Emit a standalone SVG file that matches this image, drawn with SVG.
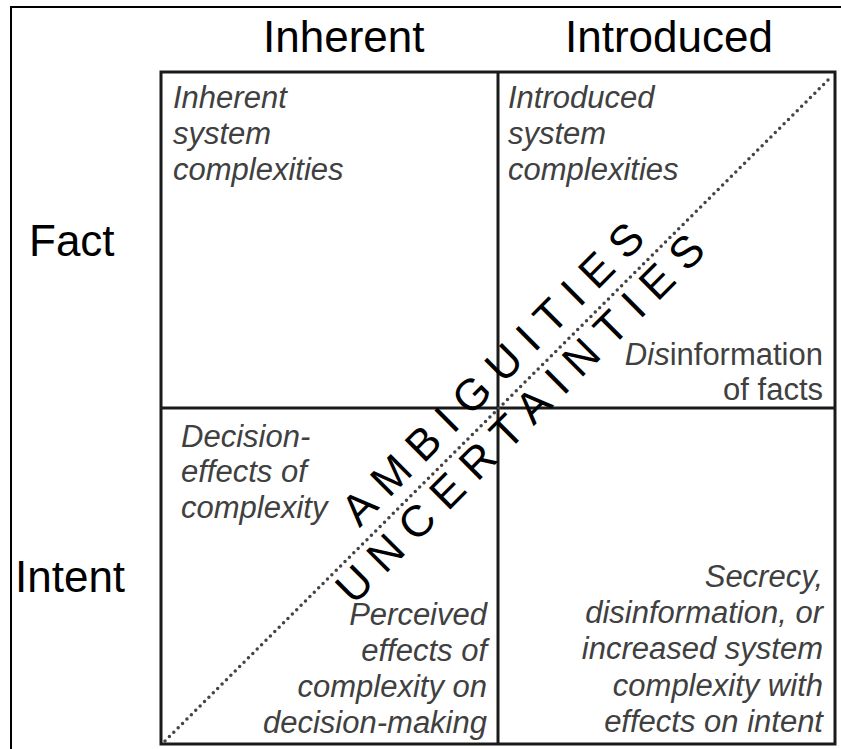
<svg xmlns="http://www.w3.org/2000/svg" width="841" height="749" viewBox="0 0 841 749">
<style>
.hdr{font-family:"Liberation Sans",Arial,sans-serif;font-size:44px;fill:#000}
.lab{font-family:"Liberation Sans",Arial,sans-serif;font-size:31px;font-style:italic;fill:#404040}
.up{font-style:normal}
.r{text-anchor:end}
.big{font-family:"Liberation Sans",Arial,sans-serif;font-size:44px;fill:#000}
.grid{fill:none;stroke:#1a1a1a;stroke-width:3}
</style>
<rect width="841" height="749" fill="#fff"/>
<rect x="11" y="7" width="840" height="760" fill="none" stroke="#000" stroke-width="2"/>
<g id="headers">
<text class="hdr" x="263" y="52">Inherent</text>
<text class="hdr" x="565" y="52">Introduced</text>
<text class="hdr" x="29" y="256">Fact</text>
<text class="hdr" x="15" y="592">Intent</text>
</g>
<g id="grid">
<rect class="grid" x="161" y="72" width="674" height="672"/>
<line class="grid" x1="498" y1="72" x2="498" y2="744"/>
<line class="grid" x1="161" y1="408" x2="835" y2="408"/>
</g>
<g id="connectors">
<line x1="165" y1="741" x2="832" y2="76" stroke="#444" stroke-width="3.5" stroke-linecap="round" stroke-dasharray="0 6.2"/>
</g>
<g id="q-inherent-fact">
<text class="lab" x="173" y="108">Inherent</text>
<text class="lab" x="173" y="144">system</text>
<text class="lab" x="173" y="180">complexities</text>
</g>
<g id="q-introduced-fact">
<text class="lab" x="508" y="108">Introduced</text>
<text class="lab" x="508" y="144">system</text>
<text class="lab" x="508" y="180">complexities</text>
<text class="lab r" x="823" y="365">Dis<tspan class="up">information</tspan></text>
<text class="lab r up" x="823" y="400">of facts</text>
</g>
<g id="q-inherent-intent">
<text class="lab" x="181" y="447">Decision-</text>
<text class="lab" x="181" y="482">effects of</text>
<text class="lab" x="181" y="518">complexity</text>
<text class="lab r" x="487" y="625">Perceived</text>
<text class="lab r" x="487" y="661">effects of</text>
<text class="lab r" x="487" y="697">complexity on</text>
<text class="lab r" x="487" y="733">decision-making</text>
</g>
<g id="q-introduced-intent">
<text class="lab r" x="823" y="587">Secrecy,</text>
<text class="lab r" x="823" y="623">disinformation, or</text>
<text class="lab r" x="823" y="659">increased system</text>
<text class="lab r" x="823" y="696">complexity with</text>
<text class="lab r" x="823" y="732">effects on intent</text>
</g>
<g id="diagonal-labels" transform="translate(498,408) rotate(-45)">
<text class="big" x="-183" y="-13" letter-spacing="12.3">AMBIGUITIES</text>
<text class="big" x="-242" y="38" letter-spacing="12.5">UNCERTAINTIES</text>
</g>
</svg>
